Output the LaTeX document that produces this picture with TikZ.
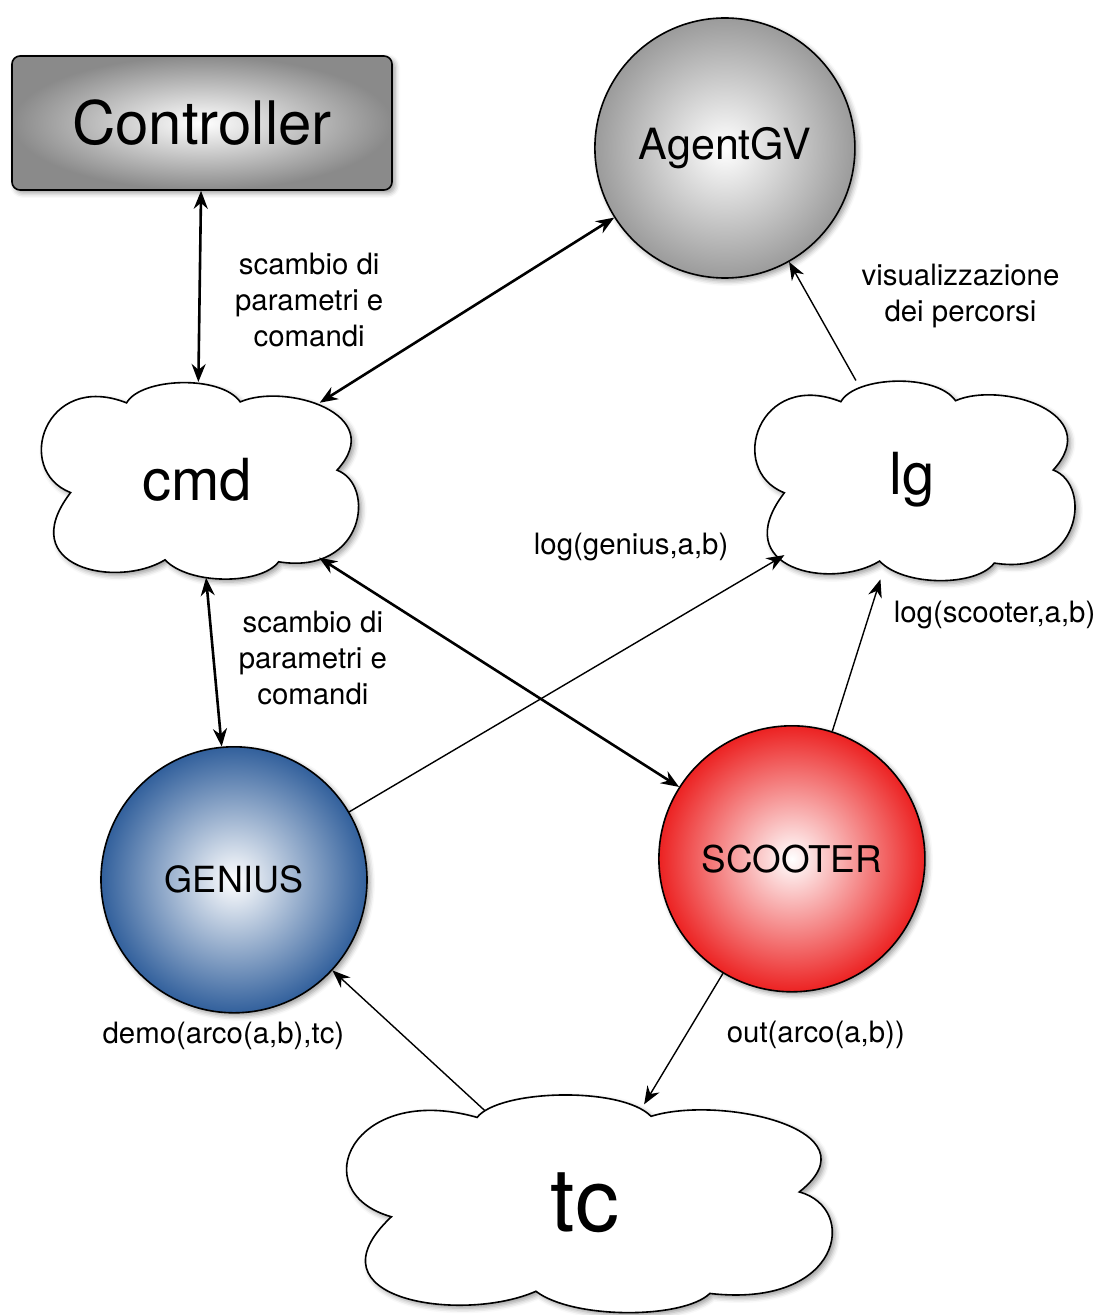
\documentclass[tikz,border=0pt]{standalone}
\usepackage{fontspec}
\setmainfont{TeX Gyre Heros}
\usetikzlibrary{shapes.geometric, shapes.misc, shadows.blur, arrows.meta, backgrounds}

\definecolor{ctrlgray}{RGB}{138,138,138}
\definecolor{agentgray}{RGB}{155,155,155}
\definecolor{geniusblue}{RGB}{50,96,156}
\definecolor{scooterred}{RGB}{236,34,34}

\tikzstyle{shadowed} = [
    blur shadow={shadow xshift=1.5pt, shadow yshift=-1.5pt,
        shadow blur radius=2.5pt, shadow opacity=40}
]
\tikzstyle{ctrlbox} = [
    rectangle,
    rounded corners=4pt,
    minimum width=190pt,
    minimum height=67pt,
    draw=black,
    line width=0.8pt,
    shading=radial,
    inner color=white,
    outer color=ctrlgray,
    shadowed,
    font=\fontsize{30}{36}\selectfont
]
\tikzstyle{tuplespace} = [
    rounded rectangle,
    inner sep=0pt,
    font=\fontsize{29}{34}\selectfont
]
\tikzstyle{agent} = [
    circle,
    inner sep=0pt,
    draw=black,
    line width=0.8pt,
    shading=radial,
    inner color=white,
    shadowed
]
\tikzstyle{msg} = [
    align=center,
    font=\fontsize{14.7}{18}\selectfont
]
\tikzstyle{arrow} = [line width=0.7pt, -{Stealth[length=9pt, width=7pt]}]
\tikzstyle{biarrow} = [line width=1.3pt,
    {Stealth[length=9pt, width=7pt]}-{Stealth[length=9pt, width=7pt]}]

% cloud outline, unit box [-1,1]x[-1,1]
\tikzset{
    tuplecloud/.pic={
        \draw [line width=0.8pt, fill=white, shadowed]
            (-0.79,-0.13)
            .. controls (-1.15,0.10) and (-0.95,1.12) .. (-0.44,0.79)
            .. controls (-0.35,1.05) and (0.15,1.08) .. (0.27,0.80)
            .. controls (0.55,1.0) and (1.2,0.68) .. (0.875,0.10)
            .. controls (1.12,-0.05) and (1.05,-0.98) .. (0.51,-0.84)
            .. controls (0.40,-1.08) and (-0.05,-1.08) .. (-0.20,-0.82)
            .. controls (-0.50,-1.12) and (-1.15,-0.90) .. (-0.79,-0.13)
            -- cycle;
    }
}

\begin{document}
\begin{tikzpicture}[node distance=1cm]

\useasboundingbox (0,0) rectangle (556.5pt,-657.5pt);

\node (controller) [ctrlbox] at (101pt,-61.5pt) {Controller};

\node (agent) [agent, outer color=agentgray, minimum size=130pt,
    right of=controller, xshift=233pt, yshift=-12.5pt,
    font=\fontsize{21.5}{26}\selectfont] {AgentGV};

\node (cmd) [tuplespace, minimum width=160pt, minimum height=97.5pt,
    below of=controller, xshift=-2.5pt, yshift=-150pt] {cmd};

\node (lg) [tuplespace, minimum width=161.5pt, minimum height=99pt,
    below of=agent, xshift=93.5pt, yshift=-137.5pt] {lg};

\node (genius) [agent, outer color=geniusblue, minimum size=133pt,
    below of=cmd, xshift=18.5pt, yshift=-171.5pt,
    font=\fontsize{18}{22}\selectfont] {GENIUS};

\node (scooter) [agent, outer color=scooterred, minimum size=133pt,
    below of=lg, xshift=-60pt, yshift=-161pt,
    font=\fontsize{18.4}{22}\selectfont] {SCOOTER};

\node (tc) [tuplespace, ellipse, minimum width=245pt, minimum height=101pt,
    below of=scooter, xshift=-103.5pt, yshift=-143.5pt,
    font=\fontsize{44}{50}\selectfont] {tc};

% tuple spaces
\begin{scope}[on background layer]
\pic [x=80pt, y=48.75pt] at (cmd) {tuplecloud};
\pic [x=80.75pt, y=49.5pt] at (lg) {tuplecloud};
\pic [x=122.5pt, y=54pt] at (tc) {tuplecloud};
\end{scope}

% scambio parametri
\draw [biarrow] (controller) -- node[msg, xshift=54.75pt, yshift=-7pt]
    {scambio di\\parametri e\\comandi} (cmd);
\draw [biarrow] (cmd) -- (agent);
\draw [biarrow] (cmd) -- node[msg, xshift=49.5pt, yshift=2pt]
    {scambio di\\parametri e\\comandi} (genius);
\draw [biarrow] (cmd) -- (scooter);

% log
\draw [arrow] (lg) -- node[msg, xshift=69pt, yshift=12.5pt]
    {visualizzazione\\dei percorsi} (agent);
\draw [arrow] (genius) -- node[msg, pos=0.85, xshift=-44pt, yshift=23.5pt]
    {log(genius,a,b)} (lg);
\draw [arrow] (scooter) -- node[msg, pos=0.7, xshift=64.3pt, yshift=5.2pt]
    {log(scooter,a,b)} (lg);

% tc
\draw [arrow] (tc) -- node[msg, pos=0.8, xshift=-69.7pt, yshift=-18.9pt]
    {demo(arco(a,b),tc)} (genius);
\draw [arrow] (scooter) -- node[msg, pos=0.4, xshift=62.2pt, yshift=-4.3pt]
    {out(arco(a,b))} (tc);

\end{tikzpicture}
\end{document}
